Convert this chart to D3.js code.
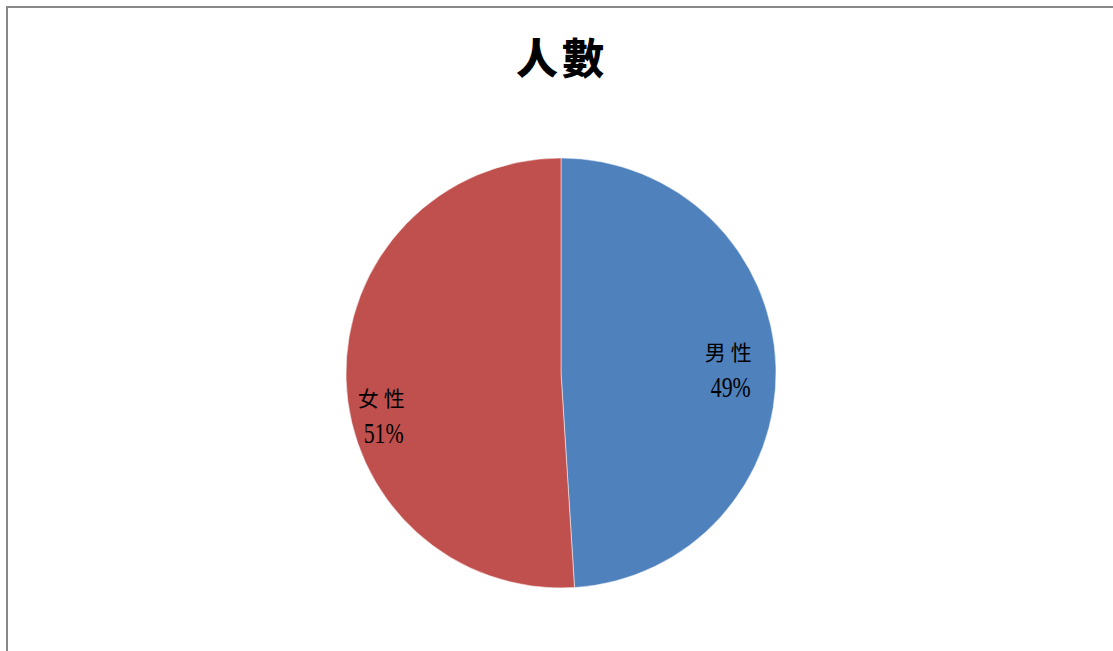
<!DOCTYPE html>
<html>
<head>
<meta charset="utf-8">
<script src="https://cdn.jsdelivr.net/npm/d3@7"></script>
<style>
  body { margin: 0; background: #fff; }
  svg { display: block; }
</style>
</head>
<body>
<div id="chart"></div>
<script>
var W = 1113, H = 651;
var title = "人數";
var categories = ["男性", "女性"];
var values = [49, 51];
var colors = ["#4F81BD", "#C0504D"];

var cx = 561, cy = 373, R = 215;

var svg = d3.select("#chart")
    .append("svg")
    .attr("width", W)
    .attr("height", H);

svg.append("rect")
    .attr("x", 7).attr("y", 7)
    .attr("width", W + 50).attr("height", H + 50)
    .attr("fill", "#fff")
    .attr("stroke", "#888")
    .attr("stroke-width", 2);

svg.append("text")
    .attr("x", 562)
    .attr("y", 74)
    .attr("text-anchor", "middle")
    .attr("font-family", "'Noto Sans CJK TC', sans-serif")
    .attr("font-weight", "900")
    .attr("font-size", 42)
    .attr("letter-spacing", 4)
    .text(title);

var pie = d3.pie().sort(null).value(d => d)
var arcs = pie(values);
var arc = d3.arc().innerRadius(0).outerRadius(R);

var g = svg.append("g").attr("transform", "translate(" + cx + "," + cy + ")");

g.selectAll("path")
    .data(arcs)
    .enter()
    .append("path")
    .attr("d", arc)
    .attr("fill", (d, i) => colors[i])
    .attr("stroke", "#fff")
    .attr("stroke-width", 0.5);

var total = d3.sum(values);
// Excel "best fit" style: labels near the rim, the left one pushed down a bit
var labelArc = d3.arc().innerRadius(R * 0.8).outerRadius(R * 0.8);

var labels = g.selectAll("g.lbl")
    .data(arcs)
    .enter()
    .append("g")
    .attr("class", "lbl")
    .attr("transform", function (d, i) {
        var c = labelArc.centroid(d);
        var dy = i == 1 ? R * 0.165 : 0;
        var dx = i == 1 ? -R * 0.025 : -R * 0.01;
        return "translate(" + (c[0] + dx) + "," + (c[1] + dy) + ")";
    });

labels.append("text")
    .attr("text-anchor", "middle")
    .attr("y", -8)
    .attr("font-family", "'Noto Sans CJK TC', sans-serif")
    .attr("font-size", 21)
    .attr("letter-spacing", 5)
    .attr("fill", "#000")
    .text((d, i) => categories[i]);

labels.append("text")
    .attr("text-anchor", "middle")
    .attr("y", 29)
    .attr("font-family", "'Liberation Serif', serif")
    .attr("font-size", 29)
    .attr("textLength", 40)
    .attr("lengthAdjust", "spacingAndGlyphs")
    .attr("fill", "#000")
    .text(d => Math.round(d.value / total * 100) + "%");
</script>
</body>
</html>
